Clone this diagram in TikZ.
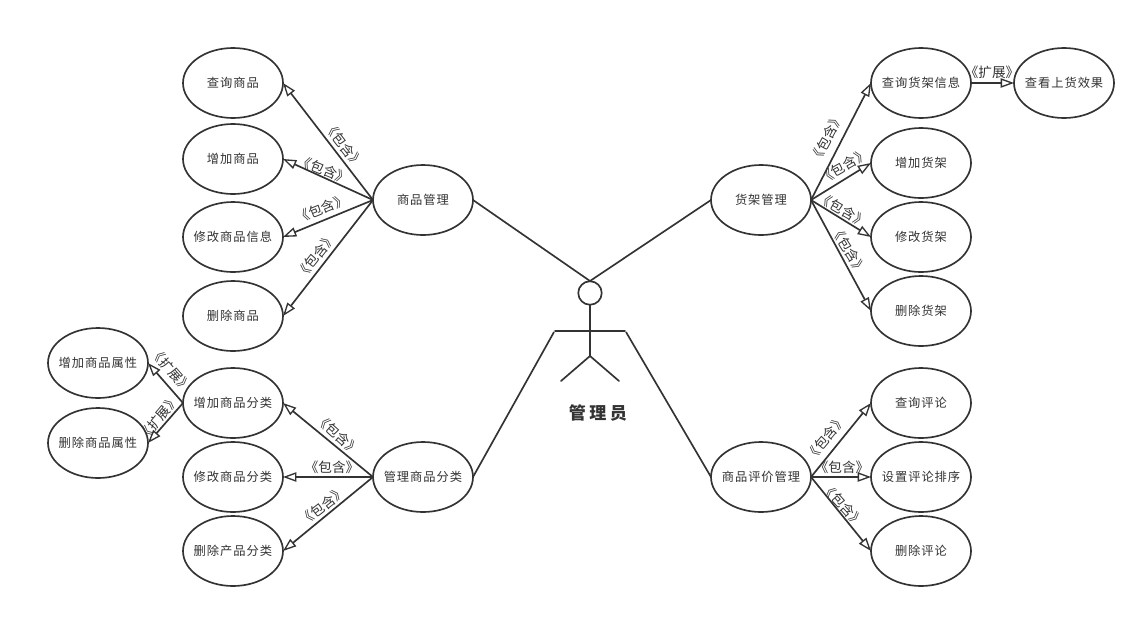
\documentclass[tikz,border=0pt]{standalone}
\usepackage{fontspec}
\usetikzlibrary{shapes.geometric,arrows.meta}
\newfontfamily\cjkn[LetterSpace=8]{Noto Sans CJK SC}
\newfontfamily\cjkl{Noto Sans CJK SC}
\newfontfamily\cjkb[LetterSpace=20]{Noto Sans CJK SC}
\definecolor{ink}{HTML}{333333}
\newcommand{\uctext}[1]{\makebox[0pt][c]{#1}}
\tikzset{
  uc/.style={draw=ink,ellipse,line width=1.25pt,minimum width=75pt,minimum height=52.5pt,inner sep=0pt,outer sep=0pt,fill=white,text=ink,font=\cjkn\fontsize{9.2pt}{11pt}\selectfont},
  assoc/.style={draw=ink,line width=1.25pt},
  dep/.style={draw=ink,line width=1.25pt,-{Triangle[open,fill=white,length=10pt,width=7pt,line width=1pt]}},
  lab/.style={text=ink,inner sep=0pt,font=\cjkl\fontsize{10.2pt}{12pt}\selectfont},
  limb/.style={draw=ink,line width=1.25pt,line cap=round},
}
\begin{document}
\begin{tikzpicture}[x=0.75pt,y=-0.75pt]
\useasboundingbox (0,0) rectangle (1146,618);
% left use cases
\node[uc] (a1) at (233,83) {\uctext{查询商品}};
\node[uc] (a2) at (233,159) {\uctext{增加商品}};
\node[uc] (a3) at (233,237) {\uctext{修改商品信息}};
\node[uc] (a4) at (233,316) {\uctext{删除商品}};
\node[uc] (m1) at (423,200) {\uctext{商品管理}};
\node[uc] (e1) at (98,363) {\uctext{增加商品属性}};
\node[uc] (e2) at (98,443) {\uctext{删除商品属性}};
\node[uc] (b1) at (233,403) {\uctext{增加商品分类}};
\node[uc] (b2) at (233,477) {\uctext{修改商品分类}};
\node[uc] (b3) at (233,551) {\uctext{删除产品分类}};
\node[uc] (m2) at (423,477) {\uctext{管理商品分类}};
% right use cases
\node[uc] (m3) at (761,200) {\uctext{货架管理}};
\node[uc] (c1) at (921,83) {\uctext{查询货架信息}};
\node[uc] (c0) at (1064,83) {\uctext{查看上货效果}};
\node[uc] (c2) at (921,163) {\uctext{增加货架}};
\node[uc] (c3) at (921,237) {\uctext{修改货架}};
\node[uc] (c4) at (921,311) {\uctext{删除货架}};
\node[uc] (m4) at (761,477) {\uctext{商品评价管理}};
\node[uc] (d1) at (921,403) {\uctext{查询评论}};
\node[uc] (d2) at (921,477) {\uctext{设置评论排序}};
\node[uc] (d3) at (921,551) {\uctext{删除评论}};
% actor
\node[draw=ink,circle,line width=1.25pt,minimum size=17.6pt,inner sep=0pt,outer sep=0pt] (head) at (590,293) {};
\coordinate (top) at (590,281);
\coordinate (hip) at (590,356);
\coordinate (armL) at (555,331);
\coordinate (armR) at (625,331);
\coordinate (legL) at (561,381);
\coordinate (legR) at (619,381);
\coordinate (tieL) at (554,332);
\coordinate (tieR) at (626,332);
\draw[limb] (head.south) -- (hip);
\draw[limb] (armL) -- (armR);
\draw[limb] (legL) -- (hip) -- (legR);
\node[text=ink,inner sep=0pt,font=\cjkb\bfseries\fontsize{12.8pt}{14pt}\selectfont] (actor) at (598,413) {管理员};
% associations
\draw[assoc] (m1.east) -- (top);
\draw[assoc] (m3.west) -- (top);
\draw[assoc] (m2.east) -- (tieL);
\draw[assoc] (m4.west) -- (tieR);
% includes
\draw[dep] (m1.west) -- (a1.east);
\draw[dep] (m1.west) -- (a2.east);
\draw[dep] (m1.west) -- (a3.east);
\draw[dep] (m1.west) -- (a4.east);
\draw[dep] (m2.west) -- (b1.east);
\draw[dep] (m2.west) -- (b2.east);
\draw[dep] (m2.west) -- (b3.east);
\draw[dep] (b1.west) -- (e1.east);
\draw[dep] (b1.west) -- (e2.east);
\draw[dep] (m3.east) -- (c1.west);
\draw[dep] (m3.east) -- (c2.west);
\draw[dep] (m3.east) -- (c3.west);
\draw[dep] (m3.east) -- (c4.west);
\draw[dep] (c1.east) -- (c0.west);
\draw[dep] (m4.east) -- (d1.west);
\draw[dep] (m4.east) -- (d2.west);
\draw[dep] (m4.east) -- (d3.west);
% labels
\node[lab,rotate=-52] (l1) at (344,145) {《包含》};
\node[lab,rotate=-22] (l2) at (324,170) {《包含》};
\node[lab,rotate=22] (l3) at (322,209) {《包含》};
\node[lab,rotate=52] (l4) at (316,256) {《包含》};
\node[lab,rotate=-49] (l5) at (171,370) {《扩展》};
\node[lab,rotate=50] (l6) at (159,418) {《扩展》};
\node[lab,rotate=-42] (l7) at (338,435) {《包含》};
\node[lab] (l8) at (332,467) {《包含》};
\node[lab,rotate=38] (l9) at (323,506) {《包含》};
\node[lab,rotate=62] (r1) at (827,138) {《包含》};
\node[lab,rotate=30] (r2) at (844,166) {《包含》};
\node[lab,rotate=-30] (r3) at (843,210) {《包含》};
\node[lab,rotate=-58] (r4) at (849,250) {《包含》};
\node[lab] (r5) at (992,72) {《扩展》};
\node[lab,rotate=50] (r6) at (826,438) {《包含》};
\node[lab] (r7) at (842,467) {《包含》};
\node[lab,rotate=-48] (r8) at (843,505) {《包含》};
\end{tikzpicture}
\end{document}
